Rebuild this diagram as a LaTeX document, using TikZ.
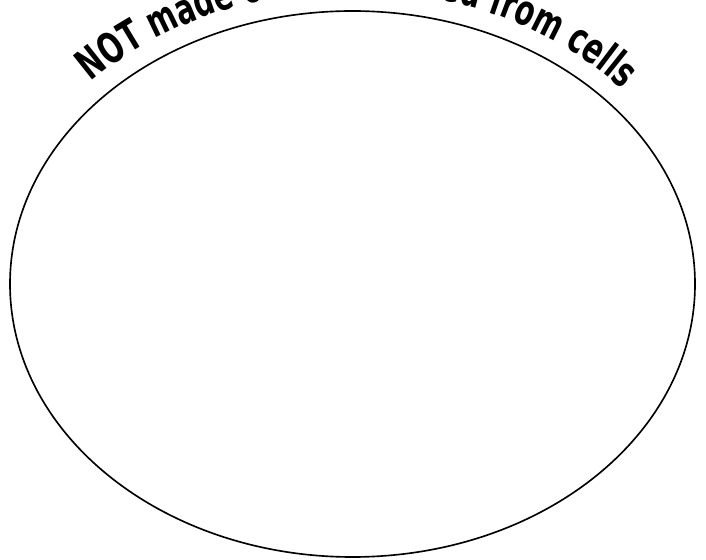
\documentclass[tikz,border=0pt]{standalone}
\usepackage{fontspec}
\usetikzlibrary{decorations.text}
\newfontfamily\cellfont[FakeStretch=0.67]{DejaVu Sans}
\tikzset{
  rim/.style={draw,line width=1.4pt},
  bend/.style={decorate,decoration={text along path,text align=center,
    text={|\cellfont\bfseries\fontsize{36}{38}\selectfont|#1}}}
}
\begin{document}
\begin{tikzpicture}[x=0.03cm,y=0.03cm]
\useasboundingbox (0,0) rectangle (706,559);
\clip (0,0) rectangle (706,559);
\coordinate (mid) at (352.5,275);
\coordinate (hub) at (352.5,277);
\draw[rim] (mid) ellipse[x radius=342.5,y radius=273];
% text runs just outside the rim
\path[bend={NOT made of or produced from cells}] (hub) ++(139:360 and 291) arc[start angle=139,end angle=39,x radius=360,y radius=291];
\end{tikzpicture}
\end{document}
